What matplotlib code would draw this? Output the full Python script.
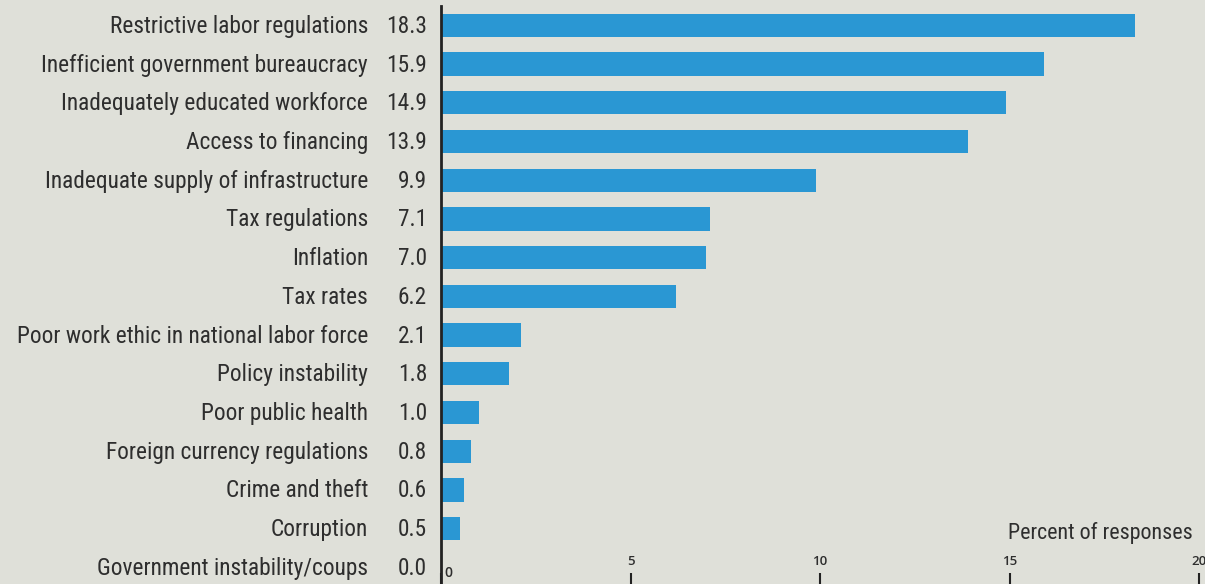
import matplotlib
matplotlib.use("Agg")
import matplotlib.pyplot as plt
from matplotlib import transforms, font_manager

categories = [
    "Restrictive labor regulations",
    "Inefficient government bureaucracy",
    "Inadequately educated workforce",
    "Access to financing",
    "Inadequate supply of infrastructure",
    "Tax regulations",
    "Inflation",
    "Tax rates",
    "Poor work ethic in national labor force",
    "Policy instability",
    "Poor public health",
    "Foreign currency regulations",
    "Crime and theft",
    "Corruption",
    "Government instability/coups",
]
values = [18.3, 15.9, 14.9, 13.9, 9.9, 7.1, 7.0, 6.2, 2.1, 1.8, 1.0, 0.8, 0.6, 0.5, 0.0]
xticks = [0, 5, 10, 15, 20]
xlabel = "Percent of responses"

available = {f.name for f in font_manager.fontManager.ttflist}
cond = None
for cand in ["Liberation Sans Narrow", "Roboto Condensed", "Open Sans Condensed",
             "DejaVu Sans Condensed"]:
    if cand in available:
        cond = cand
        break
main_family = [cond, "DejaVu Sans"] if cond else ["Liberation Sans", "DejaVu Sans"]
plt.rcParams["font.family"] = main_family

BG = "#dfe0d9"
BAR = "#2a97d3"
TXT = "#2e2e2e"

W, H = 1205, 584
fig = plt.figure(figsize=(W / 100, H / 100), dpi=100)
fig.patch.set_facecolor(BG)
ax = fig.add_axes([441 / W, 0, (1199 - 441) / W, (584 - 6) / H])
ax.set_facecolor(BG)

ypos = list(range(len(categories)))
ax.barh(ypos, values, height=0.6, color=BAR, zorder=2)
ax.set_xlim(0, 20)
ax.set_ylim(14.43, -0.5)

for s in ["top", "right", "bottom"]:
    ax.spines[s].set_visible(False)
ax.spines["left"].set_color("#222222")
ax.spines["left"].set_linewidth(2)
ax.set_yticks([])
ax.set_xticks(xticks)
ax.tick_params(axis="x", direction="in", length=8, width=1.5, color="#222222",
               labelbottom=False)

ytr = ax.get_yaxis_transform()
lab_tr = transforms.offset_copy(ytr, fig=fig, x=-73, y=-1, units="dots")
val_tr = transforms.offset_copy(ytr, fig=fig, x=-14, y=-1, units="dots")
for i, (c, v) in enumerate(zip(categories, values)):
    ax.text(0, i, c, transform=lab_tr, ha="right", va="center", fontsize=16.8, color=TXT)
    ax.text(0, i, f"{v:.1f}", transform=val_tr, ha="right", va="center", fontsize=16.8, color=TXT)

xtr = ax.get_xaxis_transform()
for t in xticks:
    if t == 0:
        tr = transforms.offset_copy(xtr, fig=fig, x=3, y=4, units="dots")
        ax.text(t, 0, str(t), transform=tr, ha="left", va="bottom", fontsize=10,
                color=TXT, family=["Open Sans", "DejaVu Sans"], fontweight="semibold")
    else:
        tr = transforms.offset_copy(xtr, fig=fig, x=0, y=16, units="dots")
        ax.text(t, 0, str(t), transform=tr, ha="center", va="bottom", fontsize=9.5,
                color=TXT, family=["Open Sans", "DejaVu Sans"], fontweight="semibold")

ax.text(1.0, 13.12, xlabel, transform=transforms.blended_transform_factory(
    transforms.offset_copy(ax.transAxes, fig=fig, x=-6, y=0, units="dots"), ax.transData),
    ha="right", va="center", fontsize=15.8, color=TXT)

fig.savefig("out.png", dpi=100, facecolor=BG)
